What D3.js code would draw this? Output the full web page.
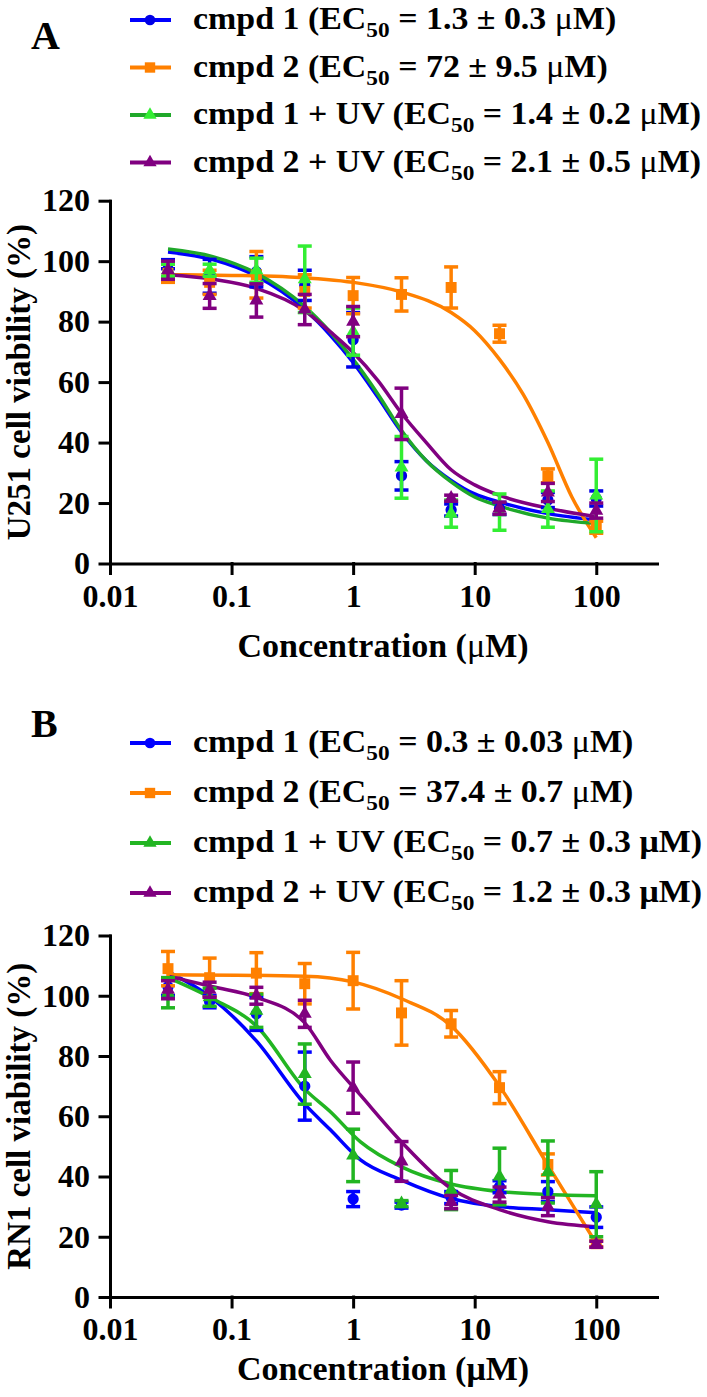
<!DOCTYPE html>
<html><head><meta charset="utf-8">
<script src="https://cdn.jsdelivr.net/npm/d3@7"></script>
<style>
body{margin:0;background:#fff}
svg{display:block}
</style>
</head><body>
<svg id="chart" width="707" height="1397"></svg>
<script>
// ---------- data ----------
const concentrations = [0.03, 0.066, 0.16, 0.4, 1, 2.5, 6.4, 16, 40, 100];
const xTicks = [0.01, 0.1, 1, 10, 100];
const xTickLabels = ["0.01", "0.1", "1", "10", "100"];
const yTicks = [0, 20, 40, 60, 80, 100, 120];
const seriesNames = ["cmpd 1", "cmpd 2", "cmpd 1 + UV", "cmpd 2 + UV"];

// Panel A : U251
const u251EC50 = ["1.3 ± 0.3", "72 ± 9.5", "1.4 ± 0.2", "2.1 ± 0.5"];
const u251Mean_cmpd1   = [99, 95, 96.5, 92, 74, 29, 17.7, 18.2, 21, 21.5];
const u251Err_cmpd1    = [1.5, 5.6, 5, 5, 9, 4.7, 2, 2, 2.5, 2.5];
const u251Mean_cmpd2   = [96, 93, 95.5, 90, 88.6, 89, 91.3, 76, 29, 12];
const u251Err_cmpd2    = [3, 4, 7.7, 5.5, 6, 5.5, 6.8, 2.8, 2.3, 2];
const u251Mean_cmpd1UV = [97, 97, 97, 94, 76.7, 31.8, 16.5, 17, 18, 22.5];
const u251Err_cmpd1UV  = [2, 2, 4, 11, 7.8, 10.2, 4.5, 6, 6, 12];
const u251Mean_cmpd2UV = [97, 88.5, 87, 84, 80, 49.5, 21.6, 18.3, 23.5, 17.5];
const u251Err_cmpd2UV  = [3, 4.1, 5.5, 5, 5, 8.5, 1, 2, 3, 2.5];
// fitted curves
const u251CurveX        = [0.03, 0.07, 0.16, 0.4, 0.65, 1, 1.6, 2.5, 4, 6.4, 10, 16, 40, 100];
const u251Curve_cmpd1   = [103, 100.5, 95, 84, 75.5, 66.5, 55, 43.5, 34, 27.5, 23, 20.3, 16.5, 14.4];
const u251Curve_cmpd1UV = [104, 101.5, 96, 85, 76.5, 67.5, 56, 44, 34, 27, 22, 19, 15, 13.2];
const u251Curve_cmpd2UV = [95.5, 94, 91, 83.6, 76.6, 69.8, 60.5, 49.7, 40, 31, 26, 22.5, 18.3, 15.5];
const u251CurveX_cmpd2  = [0.03, 0.1, 0.3, 1, 2.5, 6.4, 10, 16, 25, 40, 63, 100];
const u251Curve_cmpd2   = [95.5, 95.3, 94.8, 93, 89.8, 83, 77, 67.5, 56, 40, 22, 8.5];

// Panel B : RN1
const rn1EC50 = ["0.3 ± 0.03", "37.4 ± 0.7", "0.7 ± 0.3", "1.2 ± 0.3"];
const rn1Mean_cmpd1   = [103, 98, 94, 70, 32.5, 30.5, 33, 36.6, 35, 26.5];
const rn1Err_cmpd1    = [3, 2, 5.5, 11.3, 2.5, 1, 2, 2, 3.3, 3.4];
const rn1Mean_cmpd2   = [109, 106, 107.5, 104, 105, 94.3, 90.7, 69.5, 44, 17.7];
const rn1Err_cmpd2    = [5.7, 6.5, 6.8, 6.7, 9.4, 10.7, 4.4, 5.3, 3.5, 1];
const rn1Mean_cmpd1UV = [101, 99.5, 95, 74, 47, 31, 35.5, 40, 41.5, 30.8];
const rn1Err_cmpd1UV  = [5, 3, 5.5, 10, 8.7, 1, 6.5, 9.4, 10.3, 10.8];
const rn1Mean_cmpd2UV = [102, 102, 100, 94, 69.5, 45, 31.5, 34, 30, 17.5];
const rn1Err_cmpd2UV  = [3, 2.5, 2.8, 4.5, 8.5, 6.6, 2.2, 2.5, 3, 1];
const rn1CurveX        = [0.03, 0.07, 0.16, 0.4, 0.65, 1.15, 2.5, 6.4, 16, 40, 100];
const rn1Curve_cmpd1   = [108, 99, 85, 64, 55.5, 45.5, 38.8, 32.7, 30, 29, 28];
const rn1Curve_cmpd1UV = [106, 99, 90, 69, 61.5, 51.5, 43.2, 37.5, 35, 34, 33.6];
const rn1Curve_cmpd2UV = [106.5, 103, 99.5, 91, 78.6, 67, 51.5, 36, 29, 25, 23.3];
const rn1CurveX_cmpd2  = [0.03, 0.4, 1, 2.5, 6.4, 16, 40, 100];
const rn1Curve_cmpd2   = [107, 106.5, 104.6, 99, 90, 70, 43.8, 17.8];

// ---------- styles ----------
const FONT = '"Liberation Serif","Times New Roman",Times,serif';
const symbolsT = [d3.symbolCircle, d3.symbolSquare, d3.symbolTriangle, d3.symbolTriangle];
const symbolSize = [100, 120, 85, 85];

const panels = [
  {
    letter: "A", letterY: 49, yTitle: "U251 cell viability (%)",
    y0: 563.5, y120: 200.7, tickLabelY: 43, titleY: 657, titleMuBold: false,
    legendRows: [20, 67.5, 115, 162.5], ec50: u251EC50, muBold: [false, false, false, false],
    pointColors: ["#0000e6", "#ff8000", "#33ee33", "#800080"],
    lineColors:  ["#0000ff", "#ff8000", "#1fa82a", "#800080"],
    means: [u251Mean_cmpd1, u251Mean_cmpd2, u251Mean_cmpd1UV, u251Mean_cmpd2UV],
    errs:  [u251Err_cmpd1, u251Err_cmpd2, u251Err_cmpd1UV, u251Err_cmpd2UV],
    curveX: [u251CurveX, u251CurveX_cmpd2, u251CurveX, u251CurveX],
    curveY: [u251Curve_cmpd1, u251Curve_cmpd2, u251Curve_cmpd1UV, u251Curve_cmpd2UV]
  },
  {
    letter: "B", letterY: 737, yTitle: "RN1 cell viability (%)",
    y0: 1297, y120: 935.5, tickLabelY: 43, titleY: 1380, titleMuBold: true,
    legendRows: [743, 793, 843, 893], ec50: rn1EC50, muBold: [false, false, true, true],
    pointColors: ["#0000ff", "#ff8000", "#22b522", "#800080"],
    lineColors:  ["#0000ff", "#ff8000", "#22b522", "#800080"],
    means: [rn1Mean_cmpd1, rn1Mean_cmpd2, rn1Mean_cmpd1UV, rn1Mean_cmpd2UV],
    errs:  [rn1Err_cmpd1, rn1Err_cmpd2, rn1Err_cmpd1UV, rn1Err_cmpd2UV],
    curveX: [rn1CurveX, rn1CurveX_cmpd2, rn1CurveX, rn1CurveX],
    curveY: [rn1Curve_cmpd1, rn1Curve_cmpd2, rn1Curve_cmpd1UV, rn1Curve_cmpd2UV]
  }
];

const svg = d3.select("#chart");
const x = d3.scaleLog().domain([0.01, 316]).range([110, 657]);

panels.forEach(p => {
  const y = d3.scaleLinear().domain([0, 120]).range([p.y0, p.y120]);
  const g = svg.append("g");

  // panel letter
  g.append("text").attr("x", 31).attr("y", p.letterY)
    .attr("font-family", FONT).attr("font-weight", "bold").attr("font-size", 40)
    .text(p.letter);

  // legend
  p.legendRows.forEach((ry, i) => {
    g.append("line").attr("x1", 130).attr("x2", 171).attr("y1", ry).attr("y2", ry)
      .attr("stroke", p.lineColors[i]).attr("stroke-width", 4);
    g.append("path").attr("d", d3.symbol(symbolsT[i], symbolSize[i] * 0.9)())
      .attr("transform", `translate(150,${ry})`).attr("fill", p.pointColors[i]);
    const t = g.append("text").attr("transform", `translate(193,${ry + 9}) scale(1.06,1)`)
      .attr("font-family", FONT).attr("font-weight", "bold").attr("font-size", 32);
    t.append("tspan").text(seriesNames[i] + " (EC");
    t.append("tspan").attr("font-size", 22).attr("dy", 8).text("50");
    t.append("tspan").attr("dy", -8).text(" = " + p.ec50[i] + " ");
    t.append("tspan").attr("font-weight", p.muBold[i] ? "bold" : "normal").text("μ");
    t.append("tspan").text("M)");
  });

  // axes
  const yAxis = d3.axisLeft(y).tickValues(yTicks).tickSize(10).tickSizeOuter(0).tickPadding(10)
    .tickFormat(d3.format("d"));
  const ya = g.append("g").attr("transform", "translate(110,0)").call(yAxis);
  const xAxis = d3.axisBottom(x).tickValues(xTicks).tickSize(10).tickSizeOuter(0)
    .tickFormat((d, i) => xTickLabels[i]);
  const xa = g.append("g").attr("transform", `translate(0,${p.y0})`).call(xAxis);
  [ya, xa].forEach(a => {
    a.attr("font-family", FONT).attr("font-size", 32).attr("font-weight", "bold");
    a.selectAll("path,line").attr("stroke", "#000").attr("stroke-width", 3).attr("stroke-linecap", "square");
    a.selectAll("text").attr("fill", "#000");
  });
  xa.selectAll("text").attr("dy", null).attr("y", p.tickLabelY);

  // axis titles
  const xt = g.append("text").attr("x", 383).attr("y", p.titleY).attr("text-anchor", "middle")
    .attr("font-family", FONT).attr("font-weight", "bold").attr("font-size", 34);
  xt.append("tspan").text("Concentration (");
  xt.append("tspan").attr("font-weight", p.titleMuBold ? "bold" : "normal").text("μ");
  xt.append("tspan").text("M)");
  g.append("text").attr("transform", `translate(30,${(p.y0 + p.y120) / 2}) rotate(-90)`)
    .attr("text-anchor", "middle")
    .attr("font-family", FONT).attr("font-weight", "bold").attr("font-size", 33)
    .text(p.yTitle);

  // curves
  const line = d3.line().x(d => x(d[0])).y(d => y(d[1])).curve(d3.curveMonotoneX);
  p.curveX.forEach((cx, i) => {
    const pts = cx.map((v, k) => [v, p.curveY[i][k]]);
    g.append("path").attr("d", line(pts)).attr("fill", "none")
      .attr("stroke", p.lineColors[i]).attr("stroke-width", 3.5);
  });

  // points + error bars
  p.means.forEach((m, i) => {
    const sg = g.append("g");
    concentrations.forEach((c, k) => {
      const cx = x(c), lo = y(m[k] - p.errs[i][k]), hi = y(m[k] + p.errs[i][k]);
      sg.append("line").attr("x1", cx).attr("x2", cx).attr("y1", lo).attr("y2", hi)
        .attr("stroke", p.pointColors[i]).attr("stroke-width", 3.5);
      [lo, hi].forEach(yy => sg.append("line").attr("x1", cx - 7).attr("x2", cx + 7)
        .attr("y1", yy).attr("y2", yy).attr("stroke", p.pointColors[i]).attr("stroke-width", 3.5));
      sg.append("path").attr("d", d3.symbol(symbolsT[i], symbolSize[i])())
        .attr("transform", `translate(${cx},${y(m[k])})`).attr("fill", p.pointColors[i]);
    });
  });
});
</script>
</body></html>
